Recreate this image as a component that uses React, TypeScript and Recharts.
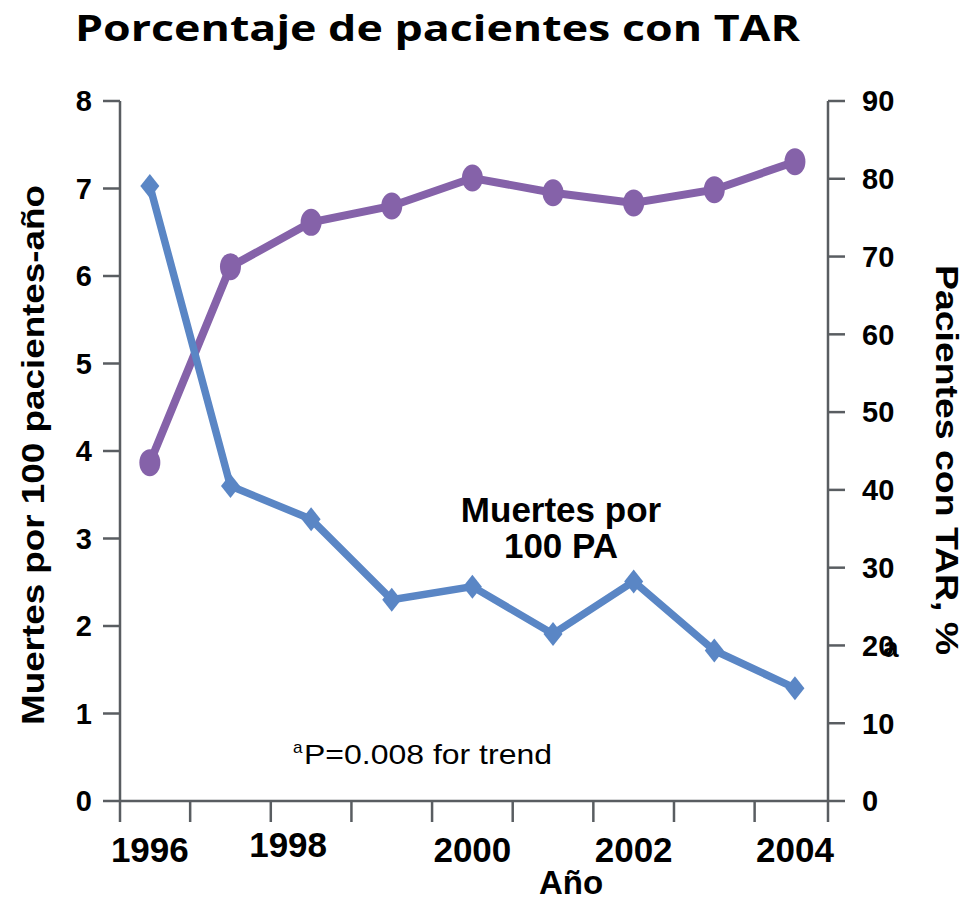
import React from "react";
import { LineChart, Line, XAxis, YAxis } from "recharts";

const years = [1996, 1997, 1998, 1999, 2000, 2001, 2002, 2003, 2004];
const muertesPor100PA = [7.03, 3.6, 3.22, 2.3, 2.45, 1.91, 2.51, 1.72, 1.29];
const pacientesConTAR = [43.5, 68.7, 74.4, 76.5, 80.1, 78.2, 76.9, 78.6, 82.2];
const yearLabels = [1996, 1998, 2000, 2002, 2004];
const yearTickMarks = [1995.63, 1996.5, 1997.5, 1998.5, 1999.5, 2000.5, 2001.5, 2002.5, 2003.5, 2004.41];
const leftTicks = [0, 1, 2, 3, 4, 5, 6, 7, 8];
const rightTicks = [0, 10, 20, 30, 40, 50, 60, 70, 80, 90];

const data = years.map((year, i) => ({
  year,
  muertes: muertesPor100PA[i],
  tar: pacientesConTAR[i],
}));

const FONT = "'Liberation Sans', Arial, sans-serif";
const AXIS = "#595d61";
const BLUE = "#5a86c5";
const PURPLE = "#8562a9";

const XTick = (props: any) => {
  const { x, y, payload } = props;
  const v = payload.value;
  if (yearLabels.includes(v)) {
    const shifted = v === 1998;
    return (
      <text
        x={x + (shifted ? -23 : 0)}
        y={y + (shifted ? 56 : 61)}
        textAnchor="middle"
        fontFamily={FONT}
        fontWeight="bold"
        fontSize={35}
        fill="#000"
      >
        {v}
      </text>
    );
  }
  return <line x1={x} x2={x} y1={y} y2={y + 21} stroke={AXIS} strokeWidth={2.5} />;
};

const Diamond = (p: any) => {
  const { cx, cy } = p;
  if (cx == null || cy == null) return null;
  return (
    <polygon
      points={`${cx},${cy - 12} ${cx + 9.5},${cy} ${cx},${cy + 12} ${cx - 9.5},${cy}`}
      fill={BLUE}
    />
  );
};

const Oval = (p: any) => {
  const { cx, cy } = p;
  if (cx == null || cy == null) return null;
  return <ellipse cx={cx} cy={cy} rx={10.5} ry={13.5} fill={PURPLE} />;
};

const tickStyle = { fontFamily: FONT, fontWeight: "bold", fontSize: 29, fill: "#000" };

export default function App() {
  return (
    <div style={{ position: "absolute", left: 0, top: 0, background: "#fff" }}>
      <LineChart width={971} height={902} data={data} margin={{ top: 101, right: 0, bottom: 0, left: 0 }}>
        <XAxis
          dataKey="year"
          type="number"
          domain={[1995.63, 2004.41]}
          ticks={[...yearTickMarks, ...yearLabels]}
          interval={0}
          tickLine={false}
          tickSize={0}
          tickMargin={0}
          height={101}
          axisLine={{ stroke: AXIS, strokeWidth: 2.5 }}
          tick={<XTick />}
          allowDataOverflow
        />
        <YAxis
          yAxisId="left"
          domain={[0, 8]}
          ticks={leftTicks}
          interval={0}
          width={120}
          tickSize={17}
          tickMargin={11}
          axisLine={{ stroke: AXIS, strokeWidth: 2.5 }}
          tickLine={{ stroke: AXIS, strokeWidth: 2.5 }}
          tick={tickStyle}
        />
        <YAxis
          yAxisId="right"
          orientation="right"
          domain={[0, 90]}
          ticks={rightTicks}
          interval={0}
          width={143}
          tickSize={17}
          tickMargin={17}
          axisLine={{ stroke: AXIS, strokeWidth: 2.5 }}
          tickLine={{ stroke: AXIS, strokeWidth: 2.5 }}
          tick={tickStyle}
        />
        <Line
          yAxisId="right"
          dataKey="tar"
          stroke={PURPLE}
          strokeWidth={8}
          dot={(p: any) => <Oval key={`o-${p.index}`} {...p} />}
          isAnimationActive={false}
        />
        <Line
          yAxisId="left"
          dataKey="muertes"
          stroke={BLUE}
          strokeWidth={7.5}
          dot={(p: any) => <Diamond key={`d-${p.index}`} {...p} />}
          isAnimationActive={false}
        />
        <text
          x={75}
          y={41}
          fontFamily="'Open Sans', sans-serif"
          fontWeight="bold"
          fontSize={36}
          textLength={725}
          lengthAdjust="spacingAndGlyphs"
          fill="#000"
        >
          Porcentaje de pacientes con TAR
        </text>
        <text
          transform="translate(44,455) rotate(-90)"
          textAnchor="middle"
          fontFamily={FONT}
          fontWeight="bold"
          fontSize={32}
          textLength={540}
          lengthAdjust="spacingAndGlyphs"
          fill="#000"
        >
          Muertes por 100 pacientes-año
        </text>
        <text
          transform="translate(936,460) rotate(90)"
          textAnchor="middle"
          fontFamily={FONT}
          fontWeight="bold"
          fontSize={32}
          textLength={390}
          lengthAdjust="spacingAndGlyphs"
          fill="#000"
        >
          Pacientes con TAR, %
        </text>
        <text x={571} y={894} textAnchor="middle" fontFamily={FONT} fontWeight="bold" fontSize={33} fill="#000">
          Año
        </text>
        <text x={561} y={522} textAnchor="middle" fontFamily={FONT} fontWeight="bold" fontSize={35} fill="#000">
          Muertes por
        </text>
        <text x={561} y={558} textAnchor="middle" fontFamily={FONT} fontWeight="bold" fontSize={35} fill="#000">
          100 PA
        </text>
        <text x={883} y={657} fontFamily={FONT} fontWeight="bold" fontSize={28} fill="#000">
          a
        </text>
        <text x={293} y={753} fontFamily={FONT} fontSize={17} fill="#000">
          a
        </text>
        <text
          x={304}
          y={764}
          fontFamily={FONT}
          fontSize={28}
          textLength={248}
          lengthAdjust="spacingAndGlyphs"
          fill="#000"
        >
          P=0.008 for trend
        </text>
      </LineChart>
    </div>
  );
}
